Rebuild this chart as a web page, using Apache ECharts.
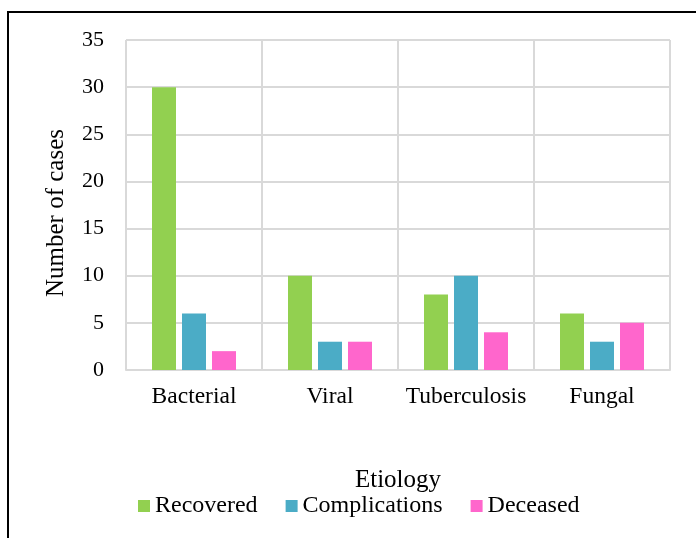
<!DOCTYPE html>
<html><head><meta charset="utf-8">
<script src="https://cdn.jsdelivr.net/npm/echarts@6/dist/echarts.min.js"></script>
<style>html,body{margin:0;padding:0;background:#fff}#c{width:696px;height:538px}</style>
</head><body><div id="c"></div>
<script>
const categories = ['Bacterial', 'Viral', 'Tuberculosis', 'Fungal'];
const recovered = [30, 10, 8, 6];
const complications = [6, 3, 10, 3];
const deceased = [2, 3, 4, 5];
const yTicks = [0, 5, 10, 15, 20, 25, 30, 35];

const font = '"Liberation Serif", "Times New Roman", serif';
const chart = echarts.init(document.getElementById('c'), null, {renderer: 'canvas'});
chart.setOption({
  animation: false,
  backgroundColor: '#fff',
  textStyle: {fontFamily: font},
  graphic: [{
    type: 'polyline',
    shape: {points: [[8, 538], [8, 12], [696, 12]]},
    style: {stroke: '#000', lineWidth: 2, fill: null}
  }],
  grid: {left: 126, right: 26, top: 40, bottom: 168},
  legend: {
    top: 489, left: 133, itemWidth: 12, itemHeight: 12, itemGap: 28,
    icon: 'rect',
    textStyle: {fontFamily: font, fontSize: 24, color: '#000'},
    data: ['Recovered', 'Complications', 'Deceased']
  },
  xAxis: {
    type: 'category', data: categories,
    name: 'Etiology', nameLocation: 'middle', nameGap: 98,
    nameTextStyle: {fontFamily: font, fontSize: 25, color: '#000'},
    axisLine: {show: true, lineStyle: {color: '#d9d9d9', width: 2}},
    axisTick: {show: false},
    axisLabel: {interval: 0, fontFamily: font, fontSize: 23.5, color: '#000', margin: 15},
    splitLine: {show: true, interval: 0, lineStyle: {color: '#d9d9d9', width: 2}}
  },
  yAxis: {
    type: 'value', min: 0, max: 35, interval: 5,
    name: 'Number of cases', nameLocation: 'middle', nameGap: 57,
    nameTextStyle: {fontFamily: font, fontSize: 25, color: '#000', padding: [0, 16, 0, 0]},
    axisLine: {show: false}, axisTick: {show: false},
    axisLabel: {fontFamily: font, fontSize: 22, color: '#000', margin: 22,
      formatter: v => yTicks.includes(v) ? String(v) : ''},
    splitLine: {lineStyle: {color: '#d9d9d9', width: 2}}
  },
  series: [
    {name: 'Recovered', type: 'bar', data: recovered, barWidth: 24, barGap: '25%', itemStyle: {color: '#92D050'}},
    {name: 'Complications', type: 'bar', data: complications, barWidth: 24, barGap: '25%', itemStyle: {color: '#4BACC6'}},
    {name: 'Deceased', type: 'bar', data: deceased, barWidth: 24, barGap: '25%', itemStyle: {color: '#FF66CC'}}
  ]
});
</script></body></html>
